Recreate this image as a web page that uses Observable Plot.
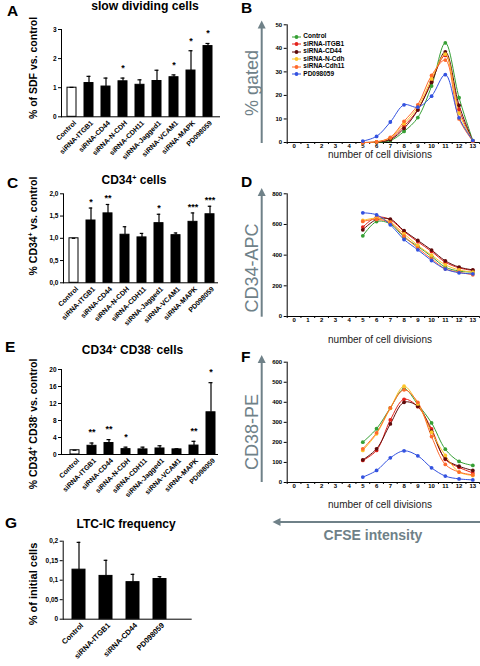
<!DOCTYPE html>
<html><head><meta charset="utf-8">
<script src="https://cdn.jsdelivr.net/npm/d3@7"></script>
<script src="https://cdn.jsdelivr.net/npm/@observablehq/plot@0.6"></script>
<style>
body{margin:0;background:#fff;}
#fig{position:relative;width:480px;height:666px;overflow:hidden;background:#fff;font-family:"Liberation Sans",Arial,sans-serif;}
.t{position:absolute;white-space:nowrap;line-height:1;}
sup{font-size:0.6em;line-height:0;vertical-align:0.6em;}
</style></head><body><div id="fig"></div>
<script>
// ---------- DATA ----------
const barCats = ["Control","siRNA-ITGB1","siRNA-CD44","siRNA-N-CDH","siRNA-CDH11","siRNA-Jagged1","siRNA-VCAM1","siRNA-MAPK","PD098059"];
const sdfMean  = [1.00,1.16,1.04,1.22,1.10,1.23,1.36,1.59,2.43];
const sdfUpper = [1.01,1.39,1.33,1.33,1.27,1.60,1.44,2.27,2.52];
const sdfStars = ["","","","*","","","*","*","*"];
const sdfTicks = [0,1,2,3];

const cd34Mean  = [1.00,1.40,1.56,1.08,1.02,1.34,1.07,1.37,1.54];
const cd34Upper = [1.00,1.68,1.76,1.26,1.11,1.54,1.12,1.57,1.72];
const cd34Stars = ["","*","**","","","*","","***","***"];
const cd34Ticks = [0,0.5,1,1.5,2];

const dnMean  = [1.00,2.05,2.70,1.26,1.20,1.42,1.20,2.10,9.93];
const dnUpper = [1.00,2.70,3.50,1.73,1.73,2.05,1.34,3.10,16.9];
const dnStars = ["","**","**","*","","","","**","*"];
const dnTicks = [0,4,8,12,16,20];

const ltcCats  = ["Control","siRNA-ITGB1","siRNA-CD44","PD098059"];
const ltcMean  = [0.127,0.111,0.095,0.103];
const ltcUpper = [0.197,0.151,0.115,0.109];
const ltcTicks = [0,0.05,0.1,0.15,0.2];

const divisions = [5,6,7,8,9,10,11,12,13];
const divTicks = [0,1,2,3,4,5,6,7,8,9,10,11,12,13];
const seriesNames = ["Control","siRNA-ITGB1","siRNA-CD44","siRNA-N-Cdh","siRNA-Cdh11","PD098059"];
const seriesColors = ["#36a035","#e3231c","#5e0b0b","#fdc52a","#ff6a2c","#3352e0"];

const gatedControl = [0,0.1,0.8,4.7,10.6,24.0,42.3,19.0,0.8];
const gatedITGB1   = [0,0.2,1.5,7.0,14.0,26.0,37.0,14.0,0.5];
const gatedCD44    = [0,0.2,1.2,6.0,13.8,25.5,38.5,15.8,0.6];
const gatedNCdh    = [0,0.3,2.0,8.0,15.0,27.0,37.5,12.5,0.6];
const gatedCdh11   = [0,0.3,2.2,9.0,16.0,28.5,35.0,10.0,0.6];
const gatedPD      = [0.6,2.6,8.7,16.0,15.0,19.7,28.8,10.5,0.8];
const gatedTicks = [0,10,20,30,40,50];

const apcControl = [526,619,604,517,457,391,322,296,289];
const apcITGB1   = [583,648,630,554,487,424,354,317,300];
const apcCD44    = [565,633,635,559,496,433,363,322,304];
const apcNCdh    = [626,641,615,539,463,400,337,304,289];
const apcCdh11   = [620,633,611,524,446,376,311,289,272];
const apcPD      = [676,663,598,502,435,365,309,285,278];
const apcTicks = [0,200,400,600,800];

const peControl = [201,268,372,467,389,297,166,105,85];
const peITGB1   = [110,160,312,415,378,267,115,75,48];
const peCD44    = [113,168,292,400,380,256,118,81,60];
const peNCdh    = [160,243,370,480,392,251,135,52,35];
const peCdh11   = [168,248,372,462,400,229,90,52,38];
const pePD      = [27,60,123,158,133,73,32,18,13];
const peTicks = [0,100,200,300,400,500,600];

// ---------- LAYOUT ----------
const fig = document.getElementById("fig");
const FONT = '"Liberation Sans", Arial, sans-serif';
const GRAY = "#6f8188";
const baseStyle = {background:"transparent", overflow:"visible", fontFamily:FONT, fontWeight:"bold", fontSize:"6.5px", color:"black"};
const comma = d => String(+d.toFixed(2)).replace(".", ",");

function place(node, left, top){
  node.style.position = "absolute"; node.style.left = left + "px"; node.style.top = top + "px";
  fig.appendChild(node);
}

function barPanel(o){
  const data = o.cats.map((c,i)=>({cat:c, mean:o.means[i], upper:o.uppers[i], star:o.stars ? o.stars[i] : ""}));
  const n = o.cats.length, W = o.R - o.L;
  const pi = 1 - o.bw/o.step;
  const po = (W/o.step - n + pi)/2;
  const align = (o.first - o.bw/2 - o.L)/(2*po*o.step);
  const cap = Math.max(0,(o.bw - 4)/2);
  const svg = Plot.plot({
    width:240, height:o.height,
    marginLeft:o.L, marginRight:240-o.R,
    marginTop:o.yTop - o.top, marginBottom:o.top + o.height - o.yZero,
    x:{domain:o.cats, paddingInner:pi, paddingOuter:po, align},
    y:{domain:[0, o.yMax]},
    style:baseStyle,
    marks:[
      Plot.barY(data,{x:"cat", y:"mean", fill:d => (o.hollow && d.cat==="Control") ? "white" : "black", stroke:"black", strokeWidth:1}),
      Plot.ruleX(data,{x:"cat", y1:"mean", y2:"upper", stroke:"black", strokeWidth:1.2}),
      Plot.tickY(data,{x:"cat", y:"upper", stroke:"black", strokeWidth:1.2, insetLeft:cap, insetRight:cap}),
      Plot.text(data,{x:"cat", y:"upper", text:"star", dy:-o.starGap, fontSize:9, fontWeight:"bold", fill:"#000"}),
      Plot.ruleY([0],{stroke:"black", strokeWidth:1}),
      Plot.frame({anchor:"left", stroke:"black", strokeWidth:1}),
      Plot.axisY({ticks:o.ticks, tickFormat:o.fmt, tickSize:3, tickPadding:2, label:null, fontSize:o.tickFont || 6.5, fontWeight:"bold"}),
      Plot.axisX({tickRotate:-45, tickSize:0, tickPadding:5, dx:3, label:null, fontSize:o.catFont || 7, fontWeight:"bold"})
    ]
  });
  place(svg, 0, o.top);
}

function linePanel(o){
  const L = 286.7, R = 479.2;
  const data = [];
  seriesNames.forEach((s,k)=>divisions.forEach((d,i)=>data.push({s, div:d, v:o.values[k][i]})));
  const svg = Plot.plot({
    width:240, height:o.height,
    marginLeft:L-240, marginRight:480-R,
    marginTop:o.yTop - o.top, marginBottom:o.top + o.height - o.yZero,
    x:{domain:[-0.5,13.5]},
    y:{domain:[0,o.yMax]},
    color:{domain:seriesNames, range:seriesColors},
    style:baseStyle,
    marks:[
      Plot.ruleY([0],{stroke:"black", strokeWidth:1}),
      Plot.ruleX([-0.5],{stroke:"black", strokeWidth:1}),
      Plot.axisX({ticks:divTicks.map(d=>d-0.5).concat([13.5]), tickSize:2, tickFormat:()=> "", label:null}),
      Plot.axisX({ticks:divTicks, tickSize:0, tickPadding:1.5, tickFormat:d=>String(d), label:null, fontSize:6, fontWeight:"bold"}),
      Plot.axisY({ticks:o.ticks, tickSize:3, tickPadding:2, label:null, fontSize:6, fontWeight:"bold"}),
      Plot.line(data,{x:"div", y:"v", z:"s", stroke:"s", curve:"catmull-rom", strokeWidth:1}),
      Plot.dot(data,{x:"div", y:"v", fill:"s", r:1.9})
    ]
  });
  place(svg, 240, o.top);
}

barPanel({cats:barCats, means:sdfMean, uppers:sdfUpper, stars:sdfStars, ticks:sdfTicks, fmt:d=>String(d),
  top:0, height:170, yTop:29, yZero:116.3, yMax:3, L:61, R:220, first:70.5, step:17.25, bw:9, hollow:true, starGap:10});
barPanel({cats:barCats, means:cd34Mean, uppers:cd34Upper, stars:cd34Stars, ticks:cd34Ticks, fmt:d=>d.toFixed(1).replace(".",","),
  top:170, height:170, yTop:193.3, yZero:282.3, yMax:2, L:63, R:218, first:72.7, step:17.25, bw:9.5, hollow:true, starGap:6});
barPanel({cats:barCats, means:dnMean, uppers:dnUpper, stars:dnStars, ticks:dnTicks, fmt:d=>String(d),
  top:335, height:170, yTop:369, yZero:454, yMax:20, L:61, R:218, first:71.7, step:17.4, bw:9, hollow:true, starGap:10.5});
barPanel({cats:ltcCats, means:ltcMean, uppers:ltcUpper, stars:null, ticks:ltcTicks, fmt:comma,
  top:500, height:166, yTop:540.7, yZero:618.7, yMax:0.2, L:62.7, R:191.7, first:79, step:27, bw:13.3, hollow:false, starGap:8, catFont:7.5, tickFont:6.5});

linePanel({values:[gatedControl,gatedITGB1,gatedCD44,gatedNCdh,gatedCdh11,gatedPD], ticks:gatedTicks, top:0, height:165, yTop:24.3, yZero:142, yMax:50});
linePanel({values:[apcControl,apcITGB1,apcCD44,apcNCdh,apcCdh11,apcPD], ticks:apcTicks, top:170, height:165, yTop:193.3, yZero:316, yMax:800});
linePanel({values:[peControl,peITGB1,peCD44,peNCdh,peCdh11,pePD], ticks:peTicks, top:335, height:165, yTop:361.7, yZero:482, yMax:600});

// ---------- TEXT ----------
function txt(html, x, y, o={}){
  const d = document.createElement("div");
  d.className = "t";
  d.innerHTML = html;
  const size = o.size || 10;
  d.style.fontSize = size + "px";
  d.style.fontWeight = o.weight || "bold";
  d.style.color = o.color || "black";
  if (o.rotate){
    d.style.left = x + "px"; d.style.top = y + "px";
    d.style.transform = "translate(-50%,-50%) rotate(-90deg)";
  } else {
    d.style.left = x + "px"; d.style.top = (y - 0.8465*size) + "px";
    if (o.anchor === "middle") d.style.transform = "translateX(-50%)";
  }
  fig.appendChild(d);
}
// panel letters
txt("A",7,16,{size:15.5}); txt("B",241,13,{size:15.5}); txt("C",7,188,{size:15.5});
txt("D",241,187,{size:15.5}); txt("E",5,352,{size:15.5}); txt("F",241,362,{size:15.5}); txt("G",5,528,{size:15.5});
// titles
txt("slow dividing cells",145,10.7,{size:12.2,anchor:"middle"});
txt("CD34<sup>+</sup> cells",134,184.3,{size:12,anchor:"middle"});
txt("CD34<sup>+</sup> CD38<sup>-</sup> cells",132.5,354,{size:12,anchor:"middle"});
txt("LTC-IC frequency",126,527.7,{size:12,anchor:"middle"});
// y labels
txt("% of SDF vs. control",33,68,{size:10.5,rotate:true});
txt("% CD34<sup>+</sup> vs. control",33,226,{size:10.5,rotate:true});
txt("% CD34<sup>+</sup> CD38<sup>-</sup> vs. control",33,424,{size:10.5,rotate:true});
txt("% of initial cells",33,584,{size:11,rotate:true});
// gray axis labels
txt("% gated",251.7,83,{size:18,weight:"normal",color:GRAY,rotate:true});
txt("CD34-APC",251.7,268,{size:18,weight:"normal",color:GRAY,rotate:true});
txt("CD38-PE",251.7,432,{size:18,weight:"normal",color:GRAY,rotate:true});
txt("CFSE intensity",373,540,{size:14,color:GRAY,anchor:"middle"});
// x labels
txt("number of cell divisions",380,158,{size:10,weight:"normal",color:"#222",anchor:"middle"});
txt("number of cell divisions",380,343.5,{size:10,weight:"normal",color:"#222",anchor:"middle"});
txt("number of cell divisions",380,508.5,{size:10,weight:"normal",color:"#222",anchor:"middle"});

// legend (panel B)
seriesNames.forEach((s,i)=>{
  const cy = 36.7 + i*7.46;
  const sv = d3.create("svg").attr("width",10).attr("height",6);
  sv.append("line").attr("x1",0).attr("x2",9).attr("y1",3).attr("y2",3).attr("stroke",seriesColors[i]).attr("stroke-width",1);
  sv.append("circle").attr("cx",4.5).attr("cy",3).attr("r",1.9).attr("fill",seriesColors[i]);
  place(sv.node(), 292, cy-3);
  txt(s, 303.3, cy+2.3, {size:6.5});
});

// gray arrows
const ov = d3.create("svg").attr("width",480).attr("height",666).style("position","absolute").style("left","0px").style("top","0px");
function vArrow(x, yBottom, yTip){
  ov.append("line").attr("x1",x).attr("x2",x).attr("y1",yBottom).attr("y2",yTip+6).attr("stroke",GRAY).attr("stroke-width",2);
  ov.append("path").attr("d",`M${x},${yTip}L${x-4},${yTip+8}L${x+4},${yTip+8}Z`).attr("fill",GRAY);
}
vArrow(261.7,143,20.5); vArrow(261.7,316.7,188); vArrow(261.7,482,355);
ov.append("line").attr("x1",480).attr("x2",279).attr("y1",522).attr("y2",522).attr("stroke",GRAY).attr("stroke-width",2);
ov.append("path").attr("d","M272.5,522L280.5,518L280.5,526Z").attr("fill",GRAY);
fig.appendChild(ov.node());
</script></body></html>
